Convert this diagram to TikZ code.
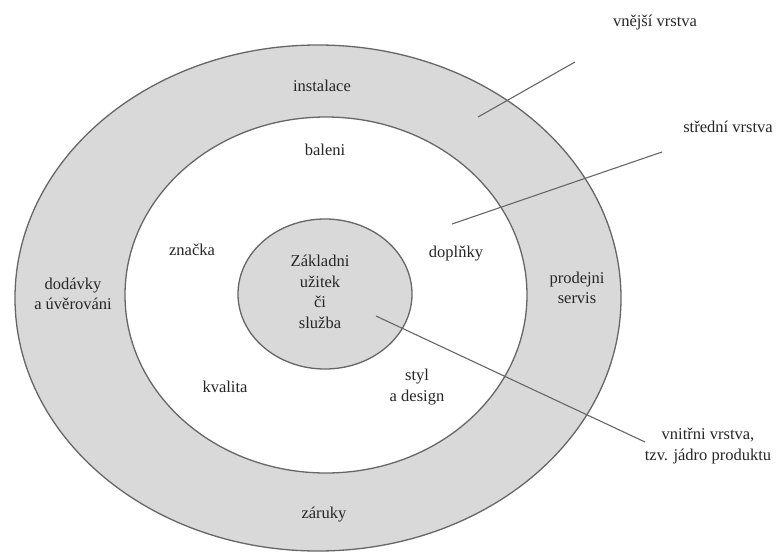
\documentclass[tikz,border=0pt]{standalone}
\usepackage{fontspec}
\setmainfont{Liberation Serif}
\usepackage{tikz}
\usetikzlibrary{positioning}
\definecolor{ringfill}{HTML}{D9D9D9}
\definecolor{ringline}{HTML}{666666}
\definecolor{txt}{HTML}{262626}

\begin{document}
\begin{tikzpicture}[x=1pt,y=-1pt]
		\tikzset{layer/.style={draw=ringline, line width=1.3pt}}
		\tikzset{lbl/.style={align=center, inner sep=0, text=txt, font=\fontsize{16.5}{20.5}\selectfont}}
		\tikzset{ptr/.style={draw=ringline, line width=1.1pt}}
		\useasboundingbox (0,0) rectangle (780,554);
		% three layers
		\draw[layer, fill=ringfill] (318,298) ellipse [x radius=303, y radius=253];
		\draw[layer, fill=white] (326,295) ellipse [x radius=201, y radius=178];
		\draw[layer, fill=ringfill] (325,294) ellipse [x radius=87, y radius=75];
		% texts
		\node[lbl] at (322, 86) (inst) {instalace};
		\node[lbl] at (73, 294) (dod) {dodávky\\a úvěrováni};
		\node[lbl] at (577, 288) (serv) {prodejni\\servis};
		\node[lbl] at (324, 515) (zar) {záruky};
		\node[lbl] at (325, 150) (bal) {baleni};
		\node[lbl] at (192, 250) (zna) {značka};
		\node[lbl] at (456, 254) (dop) {doplňky};
		\node[lbl] at (225, 387) (kva) {kvalita};
		\node[lbl] at (417, 387) (sty) {styl\\a design};
		\node[lbl] at (320, 292) (jadro) {Základni\\užitek\\či\\služba};
		\node[lbl] at (655, 23) (vnejsi) {vnější vrstva};
		\node[lbl] at (728, 127) (stredni) {střední vrstva};
		\node[lbl] at (708, 446) (vnitrni) {vnitřni vrstva,\\tzv. jádro produktu};
		% pointers
		\coordinate (a1) at (478,117);
		\coordinate (a2) at (575,62);
		\coordinate (b1) at (452,224);
		\coordinate (b2) at (662,152);
		\coordinate (c1) at (376,316);
		\coordinate (c2) at (645,442);
		\draw[ptr] (a1) -- (a2);
		\draw[ptr] (b1) -- (b2);
		\draw[ptr] (c1) -- (c2);
	\end{tikzpicture}
\end{document}
